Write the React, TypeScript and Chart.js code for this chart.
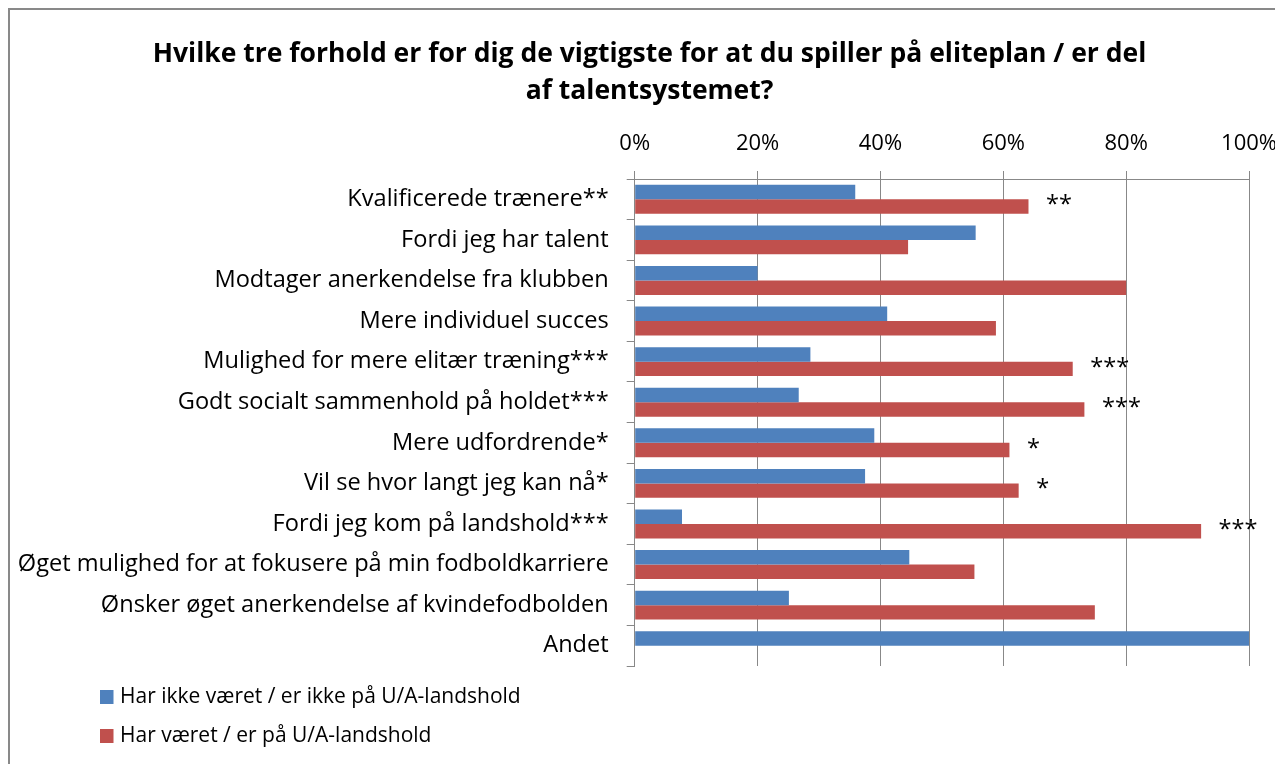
import React, { useEffect, useRef } from "react";
import { Chart, registerables } from "chart.js";

Chart.register(...registerables);

const categories = [
  "Kvalificerede trænere**",
  "Fordi jeg har talent",
  "Modtager anerkendelse fra klubben",
  "Mere individuel succes",
  "Mulighed for mere elitær træning***",
  "Godt socialt sammenhold på holdet***",
  "Mere udfordrende*",
  "Vil se hvor langt jeg kan nå*",
  "Fordi jeg kom på landshold***",
  "Øget mulighed for at fokusere på min fodboldkarriere",
  "Ønsker øget anerkendelse af kvindefodbolden",
  "Andet",
];

const seriesNames = [
  "Har ikke været / er ikke på U/A-landshold",
  "Har været / er på U/A-landshold",
];

const notOnTeam = [35.9, 55.5, 20.0, 41.1, 28.6, 26.7, 39.0, 37.5, 7.7, 44.7, 25.1, 100];
const onTeam = [64.1, 44.5, 80.0, 58.8, 71.3, 73.2, 61.0, 62.5, 92.2, 55.3, 74.9, 0];

const significance = ["**", "", "", "", "***", "***", "*", "*", "***", "", "", ""];

const xTickLabels = ["0%", "20%", "40%", "60%", "80%", "100%"];

const titleLines = [
  "Hvilke tre forhold er for dig de vigtigste for at du spiller på eliteplan / er del",
  "af talentsystemet?",
];

const seriesColors = ["#4F81BD", "#C0504D"];

const FONT = "'Open Sans'";
const LABEL_SIZE = 23.6;
const TICK_SIZE = 22;
const LEGEND_SIZE = 21;

const significancePlugin = {
  id: "significance",
  afterDatasetsDraw(chart: any) {
    const meta = chart.getDatasetMeta(1);
    const ctx = chart.ctx;
    ctx.save();
    ctx.font = `${LABEL_SIZE}px ${FONT}`;
    ctx.fillStyle = "#000";
    ctx.textAlign = "left";
    ctx.textBaseline = "middle";
    meta.data.forEach((el: any, i: number) => {
      const s = significance[i];
      if (!s) return;
      ctx.fillText(s, el.x + 17.5, el.y - 1);
    });
    ctx.restore();
  },
};

const legendPlugin = {
  id: "customLegend",
  afterDraw(chart: any) {
    const ctx = chart.ctx;
    ctx.save();
    ctx.font = `${LEGEND_SIZE}px ${FONT}`;
    ctx.textAlign = "left";
    ctx.textBaseline = "middle";
    const startY = 687;
    const gap = 39;
    chart.data.datasets.forEach((ds: any, i: number) => {
      const cy = startY + i * gap;
      ctx.fillStyle = ds.backgroundColor;
      ctx.fillRect(90, cy - 7, 13.5, 14);
      ctx.fillStyle = "#000";
      ctx.fillText(ds.label, 110, cy);
    });
    ctx.restore();
  },
};

export default function App() {
  const canvasRef = useRef<HTMLCanvasElement | null>(null);

  useEffect(() => {
    document.documentElement.style.overflow = "hidden";
    const canvas = canvasRef.current;
    if (!canvas) return;
    const chart = new Chart(canvas, {
      type: "bar",
      data: {
        labels: categories,
        datasets: [
          {
            label: seriesNames[0],
            data: notOnTeam,
            backgroundColor: seriesColors[0],
            borderWidth: 0,
          },
          {
            label: seriesNames[1],
            data: onTeam,
            backgroundColor: seriesColors[1],
            borderWidth: 0,
          },
        ],
      },
      options: {
        indexAxis: "y",
        responsive: false,
        animation: false,
        devicePixelRatio: 1,
        layout: {
          padding: { left: 6, right: 0, top: 0, bottom: 98 },
        },
        datasets: {
          bar: {
            categoryPercentage: 0.714,
            barPercentage: 1,
          },
        },
        plugins: {
          legend: { display: false },
          tooltip: { enabled: false },
          title: {
            display: true,
            text: titleLines,
            color: "#000",
            font: { family: FONT, size: 26.5, weight: "bold", lineHeight: "37px" },
            padding: { top: 25.5, bottom: 1 },
          },
        },
        scales: {
          x: {
            type: "linear",
            position: "top",
            min: 0,
            max: 100,
            afterFit(scale: any) {
              scale.height = 68.5;
            },
            ticks: {
              stepSize: 20,
              color: "#000",
              font: { family: FONT, size: TICK_SIZE, lineHeight: "43px" },
              padding: 6,
              maxRotation: 0,
              callback: (value: any) => xTickLabels[Math.round(Number(value) / 20)],
            },
            grid: {
              color: "#888888",
              lineWidth: 1,
              drawTicks: true,
              tickLength: 8,
            },
            border: { display: true, color: "#888888", width: 1 },
          },
          y: {
            type: "category",
            afterFit(scale: any) {
              scale.width = 618.7;
            },
            ticks: {
              color: "#000",
              font: { family: FONT, size: LABEL_SIZE },
              padding: 18,
              autoSkip: false,
            },
            grid: {
              display: true,
              drawOnChartArea: false,
              drawTicks: true,
              tickLength: 8,
              offset: true,
              color: "#888888",
              lineWidth: 1,
            },
            border: { display: true, color: "#888888", width: 1 },
          },
        },
      },
      plugins: [significancePlugin, legendPlugin],
    });
    return () => chart.destroy();
  }, []);

  return (
    <div
      style={{
        width: 1273,
        height: 754,
        borderTop: "2px solid #898989",
        borderLeft: "2px solid #898989",
        background: "#fff",
      }}
    >
      <canvas ref={canvasRef} width={1273} height={754} style={{ display: "block" }} />
    </div>
  );
}
